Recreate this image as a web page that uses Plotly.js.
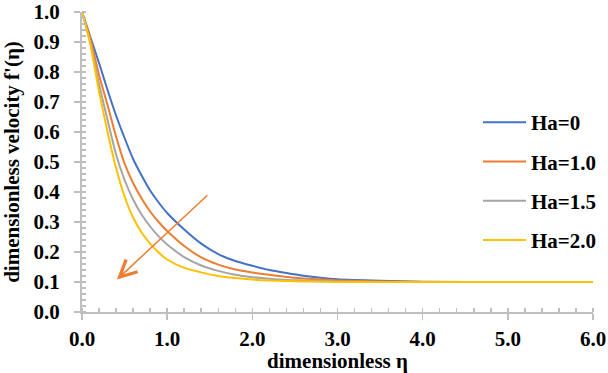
<!DOCTYPE html>
<html>
<head>
<meta charset="utf-8">
<script src="https://cdn.plot.ly/plotly-3.0.1.min.js"></script>
<style>
html,body{margin:0;padding:0;background:#fff;overflow:hidden;}
#chart{width:608px;height:373px;}
#chart svg text{font-family:"Liberation Serif","Tinos","Times New Roman","Nimbus Roman","DejaVu Serif",serif !important;}
</style>
</head>
<body>
<div id="chart"></div>
<script>
// dimensionless coordinate eta
const eta = [0, 0.1, 0.2, 0.3, 0.4, 0.5, 0.6, 0.7, 0.8, 0.9, 1.0, 1.2, 1.4, 1.6, 1.8, 2.0, 2.2, 2.4, 2.6, 2.8, 3.0, 3.5, 4.0, 5.0, 6.0];
// dimensionless velocity f'(eta) for each Hartmann number
const fHa0  = [1.0, 0.915, 0.83, 0.74, 0.655, 0.58, 0.51, 0.455, 0.405, 0.365, 0.33, 0.275, 0.228, 0.193, 0.170, 0.154, 0.140, 0.130, 0.121, 0.114, 0.109, 0.104, 0.101, 0.100, 0.100];
const fHa10 = [1.0, 0.91, 0.79, 0.69, 0.585, 0.495, 0.43, 0.378, 0.335, 0.300, 0.27, 0.22, 0.182, 0.158, 0.142, 0.132, 0.124, 0.117, 0.112, 0.108, 0.105, 0.102, 0.100, 0.100, 0.100];
const fHa15 = [1.0, 0.895, 0.76, 0.64, 0.525, 0.44, 0.375, 0.325, 0.285, 0.252, 0.225, 0.183, 0.155, 0.137, 0.124, 0.116, 0.111, 0.107, 0.105, 0.103, 0.102, 0.100, 0.100, 0.100, 0.100];
const fHa20 = [1.0, 0.89, 0.735, 0.60, 0.48, 0.385, 0.315, 0.265, 0.228, 0.198, 0.175, 0.147, 0.132, 0.12, 0.113, 0.108, 0.105, 0.103, 0.102, 0.101, 0.100, 0.100, 0.100, 0.100, 0.100];

const seriesNames = ['Ha=0', 'Ha=1.0', 'Ha=1.5', 'Ha=2.0'];
const seriesValues = [fHa0, fHa10, fHa15, fHa20];
const seriesColors = ['#4472C4', '#ED7D31', '#A5A5A5', '#FFC000'];

const xTickVals = [0, 1, 2, 3, 4, 5, 6];
const yTickVals = [0, 0.1, 0.2, 0.3, 0.4, 0.5, 0.6, 0.7, 0.8, 0.9, 1.0];

const FONT = '"Liberation Serif", "Times New Roman", serif';
const axisGray = '#BFBFBF';
const txtFont = {family: FONT, size: 21, color: '#000000', weight: 'bold'};

const traces = seriesNames.map((name, i) => ({
  type: 'scatter',
  mode: 'lines',
  x: eta,
  y: seriesValues[i],
  name: name,
  legendgroup: 'g' + i,
  line: {color: seriesColors[i], width: 2, shape: 'spline', smoothing: 0.6}
}));

const layout = {
  width: 608,
  height: 373,
  margin: {l: 82, r: 15, t: 11.5, b: 61, pad: 0, autoexpand: false},
  paper_bgcolor: '#ffffff',
  plot_bgcolor: '#ffffff',
  font: txtFont,
  showlegend: true,
  legend: {
    x: 0.775, xanchor: 'left', y: 0.70, yanchor: 'top',
    bgcolor: 'rgba(0,0,0,0)', borderwidth: 0,
    font: txtFont,
    itemwidth: 43, tracegroupgap: 9
  },
  xaxis: {
    range: [0, 6], tickmode: 'array', tickvals: xTickVals, tickformat: '.1f',
    showgrid: false, zeroline: false,
    showline: true, linecolor: axisGray, linewidth: 2,
    ticks: 'outside', ticklen: 6, tickwidth: 1.5, tickcolor: axisGray,
    ticklabelstandoff: 1, ticklabeloverflow: 'allow',
    minor: {dtick: 0.2, ticks: 'inside', ticklen: 4, tickwidth: 1.5, tickcolor: axisGray, showgrid: false},
    tickfont: txtFont,
    title: {text: 'dimensionless η', standoff: 7, font: txtFont},
    automargin: false, fixedrange: true
  },
  yaxis: {
    range: [0, 1], tickmode: 'array', tickvals: yTickVals, tickformat: '.1f',
    showgrid: false, zeroline: false,
    showline: true, linecolor: axisGray, linewidth: 2,
    ticks: 'outside', ticklen: 6, tickwidth: 1.5, tickcolor: axisGray,
    ticklabelstandoff: 10, ticklabeloverflow: 'allow',
    minor: {dtick: 0.02, ticks: 'inside', ticklen: 4, tickwidth: 1.5, tickcolor: axisGray, showgrid: false},
    tickfont: txtFont,
    title: {text: "dimensionless velocity f'(η)", standoff: 15, font: txtFont},
    automargin: false, fixedrange: true
  },
  annotations: [{
    xref: 'x', yref: 'y', axref: 'x', ayref: 'y',
    x: 0.41, y: 0.108, ax: 1.49, ay: 0.394,
    text: '', showarrow: true,
    arrowhead: 5, arrowsize: 2.2, arrowwidth: 1.5, arrowcolor: '#ED7D31'
  }]
};

Plotly.newPlot('chart', traces, layout, {displayModeBar: false, staticPlot: true});
</script>
</body>
</html>
